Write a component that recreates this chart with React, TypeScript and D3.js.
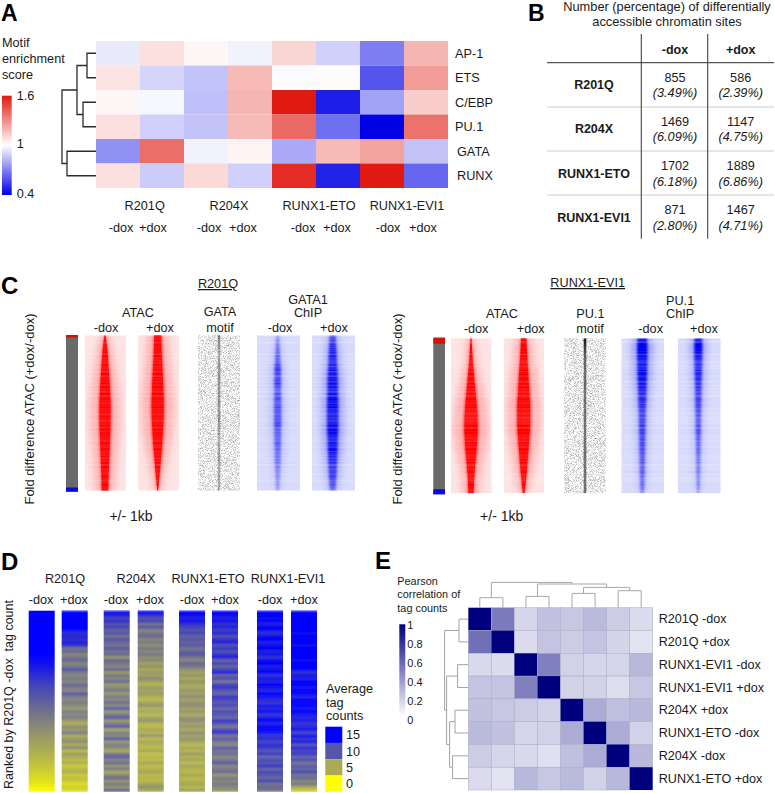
import React from "react";
import * as d3 from "d3";

const FONT = "'Liberation Sans', Arial, sans-serif";
const TS = 12.7;

// ---------- Panel A
const motifRows = ["AP-1", "ETS", "C/EBP", "PU.1", "GATA", "RUNX"];
const motifScores = [
  [0.95, 1.08, 1.02, 0.97, 1.11, 0.89, 0.7, 1.19],
  [1.07, 0.9, 0.86, 1.18, 0.99, 1.01, 0.6, 1.26],
  [1.02, 0.98, 0.85, 1.19, 1.6, 0.47, 0.78, 1.13],
  [1.08, 0.89, 0.86, 1.18, 1.39, 0.66, 0.4, 1.37],
  [0.74, 1.38, 0.97, 1.03, 0.8, 1.18, 1.24, 0.86],
  [1.08, 0.88, 1.1, 0.89, 1.55, 0.48, 1.6, 0.64],
];
const motifMerges = [[0, 1, 9], [2, 3, 13], [6, 7, 19], [4, 5, 29], [8, 9, 34]];

// ---------- Panel B
const tableGroups = ["R201Q", "R204X", "RUNX1-ETO", "RUNX1-EVI1"];
const tableMinus = ["855", "1469", "1702", "871"];
const tableMinusPct = ["(3.49%)", "(6.09%)", "(6.18%)", "(2.80%)"];
const tablePlus = ["586", "1147", "1889", "1467"];
const tablePlusPct = ["(2.39%)", "(4.75%)", "(6.86%)", "(4.71%)"];

// ---------- Panel C: half-width of the saturated core (bp), top to bottom
const coreR201QMinus = [25, 110, 160, 205, 240, 265, 265, 245, 220, 195, 170, 155];
const coreR201QPlus = [165, 180, 210, 245, 270, 285, 275, 240, 195, 140, 85, 20];
const coreEvi1Minus = [25, 60, 110, 170, 230, 285, 320, 305, 260, 205, 150, 130];
const coreEvi1Plus = [130, 160, 205, 245, 285, 315, 315, 280, 230, 180, 115, 40];
const chipWidthGata = [70, 90, 130, 150, 150, 160, 160, 150, 140, 130, 100, 70];
const chipWidthGataPlus = [140, 170, 200, 230, 240, 250, 260, 240, 220, 200, 170, 130];
const chipWidthPuMinus = [220, 240, 230, 210, 190, 170, 150, 140, 130, 120, 110, 80];
const chipWidthPuPlus = [170, 180, 170, 150, 140, 130, 120, 110, 100, 90, 80, 50];
const motifWidth = [60, 60, 60, 60, 60, 60, 60, 60, 60, 60, 60, 60];
const chipGataMinus = [0.25, 0.4, 0.45, 0.5, 0.55, 0.78, 0.55, 0.72, 0.5, 0.62, 0.55, 0.62, 0.6, 0.7, 0.5, 0.5, 0.55, 0.45, 0.45, 0.4, 0.35, 0.35, 0.3, 0.3];
const chipGataPlus = [0.55, 0.7, 0.75, 0.85, 0.8, 0.9, 0.85, 0.95, 0.85, 0.95, 1, 0.95, 0.9, 0.95, 1, 0.9, 0.9, 0.95, 0.85, 0.75, 0.7, 0.75, 0.55, 0.5];
const chipPuMinus = [1, 1, 1, 0.95, 1, 0.95, 0.95, 0.9, 0.85, 0.8, 0.75, 0.7, 0.75, 0.7, 0.65, 0.7, 0.65, 0.6, 0.6, 0.55, 0.55, 0.5, 0.45, 0.4];
const chipPuPlus = [0.9, 1, 0.95, 0.85, 0.85, 0.8, 0.8, 0.75, 0.7, 0.7, 0.65, 0.65, 0.6, 0.6, 0.6, 0.55, 0.5, 0.5, 0.45, 0.45, 0.4, 0.4, 0.35, 0.3];
const motifGata = [0.5, 0.42, 0.35, 0.3, 0.4, 0.35, 0.45, 0.4, 0.35, 0.4, 0.45, 0.35, 0.4, 0.4, 0.35, 0.3, 0.3, 0.35, 0.3, 0.35, 0.28, 0.3, 0.28, 0.25];
const motifPu = [0.95, 0.85, 0.7, 0.62, 0.62, 0.58, 0.58, 0.62, 0.55, 0.58, 0.55, 0.55, 0.58, 0.55, 0.55, 0.55, 0.55, 0.58, 0.55, 0.55, 0.58, 0.55, 0.58, 0.58];

// ---------- Panel D: average tag counts, top to bottom
const d1Stops = [15, 15, 15, 15, 15, 14, 12.5, 11, 10, 8.8, 7.8, 6.8, 5.8, 5, 4, 3, 1.8, 0];
const d2 = [15, 15, 15, 15, 15, 15, 14, 12, 13, 12, 13, 12, 8, 9, 7, 8, 9, 7, 8, 10, 8, 7, 8, 7, 9, 8, 7, 10, 8, 7, 8, 7, 6, 8, 7, 8, 6, 5, 7, 6, 8, 5, 6, 7, 5, 7, 4, 6, 5, 4, 5, 3, 4, 5, 3, 4, 3, 2, 3, 2];
const d3Col = [14, 13, 11, 12, 10, 11, 9, 10, 8, 10, 9, 8, 10, 8, 9, 6, 9, 8, 7, 9, 6, 8, 7, 9, 6, 7, 8, 6, 8, 7, 9, 7, 10, 6, 8, 10, 6, 8, 10, 5, 8, 7, 10, 6, 8, 7, 5, 8, 10, 7, 9, 6, 8, 5, 7, 9, 6, 8, 6, 9];
const d4 = [15, 12, 10, 11, 8, 10, 7, 8, 9, 7, 8, 6.5, 8, 7, 8, 6.5, 7, 5.5, 6.5, 5, 6, 5.5, 7, 5.5, 4.5, 6, 5.5, 6, 5, 4, 5.5, 6.5, 4.5, 5.5, 4, 5.5, 6.5, 4.5, 4, 5.5, 4.5, 6.5, 4, 5.5, 4.5, 4, 5.5, 3.5, 4.5, 4, 5.5, 4, 4.5, 5.5, 4, 4.5, 4, 5.5, 6.5, 5];
const d5 = [15, 14, 13, 14, 12, 11, 10, 11, 9, 10, 9, 10, 8, 9, 10, 8, 7, 9, 8, 6.5, 5.5, 6.5, 5, 6.5, 5.5, 5, 6.5, 5.5, 7, 5.5, 6.5, 7, 5.5, 6.5, 5, 6.5, 7, 5.5, 6.5, 5, 7, 5.5, 6.5, 5.5, 4, 5.5, 4.5, 6, 4.5, 5.5, 4, 5.5, 4.5, 4, 5.5, 4, 4.5, 5.5, 4, 5.5];
const d6 = [15, 14, 13, 14, 12, 13, 11, 13, 10, 12, 13, 10, 12, 10, 12, 13, 9, 11, 9, 11, 13, 9, 11, 8, 11, 12, 10, 9, 12, 11, 10, 11, 9, 11, 10, 9, 12, 10, 8, 11, 12, 8, 10, 8, 7, 10, 8, 9, 7, 8, 10, 7, 8, 9, 6, 8, 7, 8, 7, 6];
const d7 = [15, 15, 14, 15, 13, 15, 14, 12, 14, 15, 13, 14, 15, 13, 14, 12, 14, 15, 13, 14, 15, 12, 14, 13, 15, 14, 13, 15, 14, 13, 12, 14, 13, 15, 12, 14, 15, 13, 15, 15, 14, 12, 13, 11, 13, 12, 10, 12, 9, 11, 10, 12, 9, 11, 10, 9, 11, 8, 9, 8];
const d8 = [15, 15, 15, 15, 15, 15, 15, 14, 15, 15, 15, 14, 15, 15, 15, 15, 14, 15, 15, 15, 12, 14, 13, 15, 15, 14, 15, 15, 13, 15, 15, 15, 14, 15, 14, 13, 14, 12, 13, 14, 11, 14, 12, 14, 10, 13, 11, 12, 9, 11, 8, 10, 9, 11, 8, 9, 7, 8, 5, 3];
const tagLegend = [15, 10, 5, 0];

// ---------- Panel E
const corrLabels = ["R201Q -dox", "R201Q +dox", "RUNX1-EVI1 -dox", "RUNX1-EVI1 +dox", "R204X +dox", "RUNX1-ETO -dox", "R204X -dox", "RUNX1-ETO +dox"];
const corrValues = [
  [1, 0.52, 0.16, 0.24, 0.22, 0.27, 0.2, 0.14],
  [0.56, 1, 0.14, 0.23, 0.2, 0.23, 0.17, 0.11],
  [0.15, 0.14, 1, 0.5, 0.18, 0.16, 0.16, 0.28],
  [0.23, 0.23, 0.5, 1, 0.18, 0.18, 0.13, 0.22],
  [0.24, 0.22, 0.2, 0.18, 1, 0.33, 0.25, 0.28],
  [0.27, 0.24, 0.16, 0.18, 0.33, 1, 0.33, 0.18],
  [0.2, 0.16, 0.15, 0.12, 0.25, 0.33, 1, 0.28],
  [0.14, 0.11, 0.28, 0.22, 0.27, 0.18, 0.28, 1],
];
const corrTopMerges = [[0, 1, 10], [2, 3, 11.3], [4, 5, 14.3], [6, 7, 17], [10, 11, 20.3], [9, 12, 23.7], [8, 13, 25.3]];
const corrLeftMerges = [[0, 1, 9.3], [2, 3, 10.7], [4, 5, 13.3], [6, 7, 15.7], [10, 11, 18.7], [9, 12, 21.7], [8, 13, 23.7]];
const corrLegendTicks = [1, 0.8, 0.6, 0.4, 0.2, 0];

const T = ({ x, y, s = TS, a = "start", b = false, i = false, u = false, r = false, c = "#1a1a1a", children }: any) => (
  <text
    x={r ? 0 : x}
    y={r ? 0 : y}
    transform={r ? `translate(${x},${y}) rotate(-90)` : undefined}
    fontSize={s}
    textAnchor={a}
    fontWeight={b ? "bold" : "normal"}
    fontStyle={i ? "italic" : "normal"}
    textDecoration={u ? "underline" : undefined}
    fill={c}
    fontFamily={FONT}
    style={{ whiteSpace: "pre" }}
  >
    {children}
  </text>
);

function dendroPaths(merges: number[][], leafCount: number, leafPos: (i: number) => number, heightPos: (h: number) => number, horizontal: boolean) {
  const pos: number[] = d3.range(leafCount).map(leafPos);
  const hts: number[] = d3.range(leafCount).map(() => 0);
  const line = d3.line();
  return merges.map(([a, b, h]) => {
    const pa = pos[a], pb = pos[b];
    const pts: [number, number][] = [
      [pa, heightPos(hts[a])],
      [pa, heightPos(h)],
      [pb, heightPos(h)],
      [pb, heightPos(hts[b])],
    ];
    pos.push((pa + pb) / 2);
    hts.push(h);
    return line(horizontal ? pts.map(([p, q]) => [q, p] as [number, number]) : pts) as string;
  });
}

function PanelA() {
  const x = d3.scaleBand().domain(d3.range(8).map(String)).range([96, 448]);
  const y = d3.scaleBand().domain(motifRows).range([41, 188]);
  const color = d3.scaleLinear<string>().domain([0.4, 1, 1.6]).range(["#0000e6", "#ffffff", "#e01a10"]);
  const legendY = d3.scaleLinear().domain([1.6, 0.4]).range([95.7, 195]);
  const h = d3.scaleLinear().domain([0, 34]).range([96, 62]);
  const labelX = [455, 455, 455, 455, 457, 457];
  const groups = [["R201Q", 144.7], ["R204X", 229], ["RUNX1-ETO", 319], ["RUNX1-EVI1", 407]] as const;
  const doxX = [121, 153, 209, 243, 303, 337, 388, 423];
  return (
    <g>
      <T x={1} y={21} s={23} b c="#000">A</T>
      <T x={2} y={47}>Motif</T>
      <T x={2} y={63}>enrichment</T>
      <T x={2} y={79}>score</T>
      <defs>
        <linearGradient id="aLegend" x1="0" x2="0" y1="0" y2="1">
          {d3.range(0, 1.001, 0.1).map((t) => (
            <stop key={t} offset={t} stopColor={color(1.6 - 1.2 * t)} />
          ))}
        </linearGradient>
      </defs>
      <rect x={2} y={legendY(1.6)} width={9.7} height={legendY(0.4) - legendY(1.6)} fill="url(#aLegend)" />
      <T x={16.7} y={99.5}>1.6</T>
      <T x={16.7} y={148}>1</T>
      <T x={16.7} y={198}>0.4</T>
      {motifScores.map((row, r) =>
        row.map((v, c) => (
          <rect key={`${r}-${c}`} x={x(String(c))} y={y(motifRows[r])} width={x.bandwidth()} height={y.bandwidth()} fill={color(v)} />
        ))
      )}
      {dendroPaths(motifMerges, 6, (i) => (y(motifRows[i]) as number) + y.bandwidth() / 2, h, true).map((d, i) => (
        <path key={i} d={d} fill="none" stroke="#2b2b2b" strokeWidth={1.3} />
      ))}
      {motifRows.map((m, i) => (
        <T key={m} x={labelX[i]} y={(y(m) as number) + y.bandwidth() / 2 + 4.5}>{m}</T>
      ))}
      {groups.map(([g, gx]) => (
        <T key={g} x={gx} y={210} a="middle">{g}</T>
      ))}
      {doxX.map((dx, i) => (
        <T key={i} x={dx} y={231.5} a="middle">{i % 2 ? "+dox" : "-dox"}</T>
      ))}
    </g>
  );
}

function PanelB() {
  const rowY = d3.scalePoint().domain(tableGroups).range([89.3, 221.7]);
  return (
    <g>
      <T x={528} y={21} s={23} b c="#000">B</T>
      <T x={667} y={10.5} s={12.8} a="middle">Number (percentage) of differentially</T>
      <T x={667} y={26} s={12.8} a="middle">accessible chromatin sites</T>
      {[107, 151, 195].map((ly) => (
        <line key={ly} x1={547} x2={774} y1={ly} y2={ly} stroke="#dedede" strokeWidth={1.5} />
      ))}
      <line x1={547} x2={774} y1={62.7} y2={62.7} stroke="#555" strokeWidth={1.2} />
      {[641.3, 707.7].map((lx) => (
        <line key={lx} x1={lx} x2={lx} y1={34} y2={238.7} stroke="#444" strokeWidth={1.1} />
      ))}
      <T x={675} y={53.5} s={12.5} a="middle" b>-dox</T>
      <T x={740.7} y={53.5} s={12.5} a="middle" b>+dox</T>
      {tableGroups.map((g, i) => {
        const ry = rowY(g) as number;
        return (
          <g key={g}>
            <T x={594} y={ry} s={12.5} a="middle" b>{g}</T>
            <T x={675} y={ry - 7.6} a="middle">{tableMinus[i]}</T>
            <T x={675} y={ry + 8} a="middle" i>{tableMinusPct[i]}</T>
            <T x={740.7} y={ry - 7.6} a="middle">{tablePlus[i]}</T>
            <T x={740.7} y={ry + 8} a="middle" i>{tablePlusPct[i]}</T>
          </g>
        );
      })}
    </g>
  );
}

function Profile({ id, kind, x0, x1, cx, y0, y1, widths, intensity }: any) {
  const half = Math.max(cx - x0, x1 - cx);
  const xs = d3.scaleLinear().domain([-1000, 1000]).range([cx - half, cx + half]);
  const ys = d3.scaleLinear().domain([0, widths.length - 1]).range([y0, y1]);
  const area = (f: (w: number) => number) =>
    d3.area<number>()
      .x0((w) => xs(-f(w)))
      .x1((w) => xs(f(w)))
      .y((_, i) => ys(i))
      .curve(d3.curveMonotoneY)(widths) as string;
  const clip = <clipPath id={`clip-${id}`}><rect x={x0} y={y0} width={x1 - x0} height={y1 - y0} /></clipPath>;
  const grad = intensity && (
    <linearGradient id={`g-${id}`} x1="0" x2="0" y1="0" y2="1">
      {intensity.map((v: number, i: number) => (
        <stop key={i} offset={i / (intensity.length - 1)} stopColor={kind === "motif" ? "#111" : "#0000f0"} stopOpacity={v} />
      ))}
    </linearGradient>
  );
  if (kind === "atac") {
    return (
      <g clipPath={`url(#clip-${id})`}>
        <defs>{clip}</defs>
        <rect x={x0} y={y0} width={x1 - x0} height={y1 - y0} fill="#fde3e3" />
        <path d={area((w) => w * 2.2 + 130)} fill="#ff9a9a" opacity={0.7} filter="url(#blurWide)" />
        <path d={area((w) => w * 1.2)} fill="#ff4040" filter="url(#blurMid)" />
        <path d={area((w) => w)} fill="#ff0000" filter="url(#blurFine)" />
        <rect x={x0} y={y0} width={x1 - x0} height={y1 - y0} filter="url(#streak)" opacity={0.16} />
      </g>
    );
  }
  if (kind === "chip") {
    return (
      <g clipPath={`url(#clip-${id})`}>
        <defs>{clip}{grad}</defs>
        <rect x={x0} y={y0} width={x1 - x0} height={y1 - y0} fill="#d6d9fb" />
        <path d={area((w) => w * 2)} fill={`url(#g-${id})`} opacity={0.3} filter="url(#blurWide)" />
        <path d={area((w) => w)} fill={`url(#g-${id})`} filter="url(#blurMid)" />
        <rect x={x0} y={y0} width={x1 - x0} height={y1 - y0} filter="url(#streak)" opacity={0.22} />
      </g>
    );
  }
  return (
    <g clipPath={`url(#clip-${id})`}>
      <defs>{clip}{grad}</defs>
      <rect x={x0} y={y0} width={x1 - x0} height={y1 - y0} fill="#fff" />
      <rect x={x0} y={y0} width={x1 - x0} height={y1 - y0} filter="url(#speckle)" opacity={0.62} />
      <path d={area((w) => w)} fill={`url(#g-${id})`} filter="url(#blurFine)" />
    </g>
  );
}

function SideBar({ x0, x1, y0, y1, redEnd, blueStart }: any) {
  return (
    <g>
      <rect x={x0} y={y0} width={x1 - x0} height={y1 - y0} fill="#6a6a6a" />
      <rect x={x0} y={y0} width={x1 - x0} height={redEnd - y0} fill="#d8100c" />
      <rect x={x0} y={blueStart} width={x1 - x0} height={y1 - blueStart} fill="#0808e0" />
    </g>
  );
}

function PanelC() {
  return (
    <g>
      <T x={1} y={294} s={24} b c="#000">C</T>
      <T x={218} y={288} a="middle" u>R201Q</T>
      <T x={33.5} y={409} s={13} a="middle" r>Fold difference ATAC (+dox/-dox)</T>
      <SideBar x0={66} x1={78} y0={335} y1={491.7} redEnd={337.5} blueStart={487.5} />
      <T x={138} y={316.5} a="middle">ATAC</T>
      <T x={106} y={332} a="middle">-dox</T>
      <T x={160} y={332} a="middle">+dox</T>
      <T x={220} y={316} a="middle">GATA</T>
      <T x={220} y={332} a="middle">motif</T>
      <T x={308} y={304} a="middle">GATA1</T>
      <T x={308} y={317} a="middle">ChIP</T>
      <T x={280} y={332} a="middle">-dox</T>
      <T x={334} y={332} a="middle">+dox</T>
      <T x={131} y={521} s={14} a="middle">+/- 1kb</T>
      <Profile id="a1" kind="atac" x0={85} x1={126} cx={105} y0={335.3} y1={490.7} widths={coreR201QMinus} />
      <Profile id="a2" kind="atac" x0={138} x1={179} cx={157.7} y0={335.3} y1={490.7} widths={coreR201QPlus} />
      <Profile id="m1" kind="motif" x0={198} x1={240} cx={219} y0={335.3} y1={490.7} widths={motifWidth} intensity={motifGata} />
      <Profile id="c1" kind="chip" x0={257} x1={300} cx={277.7} y0={335.3} y1={490.7} widths={chipWidthGata} intensity={chipGataMinus} />
      <Profile id="c2" kind="chip" x0={312} x1={355} cx={332.7} y0={335.3} y1={490.7} widths={chipWidthGataPlus} intensity={chipGataPlus} />

      <T x={587.7} y={287} a="middle" u>RUNX1-EVI1</T>
      <T x={402} y={409} s={13} a="middle" r>Fold difference ATAC (+dox/-dox)</T>
      <SideBar x0={433.3} x1={445} y0={337.7} y1={494.3} redEnd={343.7} blueStart={489.3} />
      <T x={502} y={318} a="middle">ATAC</T>
      <T x={476} y={333} a="middle">-dox</T>
      <T x={530.7} y={333} a="middle">+dox</T>
      <T x={576.3} y={318}>PU.1</T>
      <T x={576.3} y={333}>motif</T>
      <T x={666} y={305}>PU.1</T>
      <T x={666} y={317.5}>ChIP</T>
      <T x={650.7} y={333} a="middle">-dox</T>
      <T x={704} y={333} a="middle">+dox</T>
      <T x={501.7} y={520.5} s={14} a="middle">+/- 1kb</T>
      <Profile id="a3" kind="atac" x0={450.7} x1={491.7} cx={471} y0={338.3} y1={493.3} widths={coreEvi1Minus} />
      <Profile id="a4" kind="atac" x0={503.7} x1={544} cx={523.7} y0={338.3} y1={493.3} widths={coreEvi1Plus} />
      <Profile id="m2" kind="motif" x0={564} x1={605.7} cx={585} y0={338.3} y1={493.3} widths={motifWidth} intensity={motifPu} />
      <Profile id="c3" kind="chip" x0={621.3} x1={664} cx={642.3} y0={338.3} y1={493.3} widths={chipWidthPuMinus} intensity={chipPuMinus} />
      <Profile id="c4" kind="chip" x0={677.7} x1={720.7} cx={698.3} y0={338.3} y1={493.3} widths={chipWidthPuPlus} intensity={chipPuPlus} />
    </g>
  );
}

function PanelD() {
  const color = d3.scaleLinear<string>().domain([0, 15]).range(["#ffff00", "#0000ff"]);
  const cols = [d2, d3Col, d4, d5, d6, d7, d8];
  const colX = [61.7, 103.7, 137.7, 179, 212, 257, 291];
  const W = 26;
  const y0 = 610.7, y1 = 791.7;
  const legendY = d3.scaleBand<number>().domain(tagLegend).range([726.7, 791.7]);
  const groups = [["R201Q", 65], ["R204X", 136], ["RUNX1-ETO", 208], ["RUNX1-EVI1", 288]] as const;
  const doxX = [41, 74, 116, 150, 192, 225, 270, 304];
  return (
    <g>
      <T x={1} y={570} s={24} b c="#000">D</T>
      <T x={12.7} y={694.5} s={12.5} a="middle" r>Ranked by R201Q -dox  tag count</T>
      {groups.map(([g, gx]) => <T key={g} x={gx} y={583} a="middle">{g}</T>)}
      {doxX.map((dx, i) => <T key={i} x={dx} y={604} a="middle">{i % 2 ? "+dox" : "-dox"}</T>)}
      <defs>
        <linearGradient id="d1grad" x1="0" x2="0" y1="0" y2="1">
          {d1Stops.map((v, i) => <stop key={i} offset={i / (d1Stops.length - 1)} stopColor={color(v)} />)}
        </linearGradient>
      </defs>
      <rect x={28.7} y={y0} width={W} height={y1 - y0} fill="url(#d1grad)" />
      {cols.map((vals, c) => {
        const band = d3.scaleBand<number>().domain(d3.range(vals.length)).range([y0, y1]);
        return (
          <g key={c} filter="url(#softBands)">
            {vals.map((v, r) => (
              <rect key={r} x={colX[c]} y={band(r)} width={W} height={band.bandwidth() + 0.3} fill={color(v)} />
            ))}
          </g>
        );
      })}
      <T x={326} y={693}>Average</T>
      <T x={326} y={707}>tag</T>
      <T x={326} y={720}>counts</T>
      {tagLegend.map((v) => (
        <g key={v}>
          <rect x={325.3} y={legendY(v)} width={17} height={legendY.bandwidth()} fill={color(v)} />
          <T x={346} y={(legendY(v) as number) + legendY.bandwidth() / 2 + 4.5}>{v}</T>
        </g>
      ))}
    </g>
  );
}

function PanelE() {
  const idx = d3.range(8);
  const x = d3.scaleBand<number>().domain(idx).range([468.3, 652.7]);
  const y = d3.scaleBand<number>().domain(idx).range([607.7, 790]);
  const color = d3.scaleLinear<string>().domain([0, 1]).range(["#ffffff", "#00007f"]);
  const legendY = d3.scaleLinear().domain([1, 0]).range([624.3, 716.7]);
  const tickY = d3.scaleLinear().domain([1, 0]).range([629, 724]);
  const topH = d3.scaleLinear().domain([0, 25.3]).range([607.7, 582.4]);
  const leftH = d3.scaleLinear().domain([0, 23.7]).range([468.3, 444.6]);
  return (
    <g>
      <T x={375} y={569} s={24} b c="#000">E</T>
      <T x={397.3} y={585} s={10.9}>Pearson</T>
      <T x={397.3} y={598} s={10.9}>correlation of</T>
      <T x={397.3} y={611.5} s={10.9}>tag counts</T>
      <defs>
        <linearGradient id="eLegend" x1="0" x2="0" y1="0" y2="1">
          <stop offset={0} stopColor={color(1)} />
          <stop offset={1} stopColor={color(0)} />
        </linearGradient>
      </defs>
      <rect x={399.3} y={legendY(1)} width={6} height={legendY(0) - legendY(1)} fill="url(#eLegend)" />
      {corrLegendTicks.map((t) => (
        <T key={t} x={407.3} y={tickY(t)} s={11}>{t}</T>
      ))}
      {corrValues.map((row, r) =>
        row.map((v, c) => (
          <rect key={`${r}-${c}`} x={x(c)} y={y(r)} width={x.bandwidth()} height={y.bandwidth()} fill={color(v)} stroke={v === 1 ? "none" : "#a9a9c4"} strokeWidth={0.5} />
        ))
      )}
      {dendroPaths(corrTopMerges, 8, (i) => (x(i) as number) + x.bandwidth() / 2, topH, false).map((d, i) => (
        <path key={i} d={d} fill="none" stroke="#a8a8a8" strokeWidth={1} />
      ))}
      {dendroPaths(corrLeftMerges, 8, (i) => (y(i) as number) + y.bandwidth() / 2, leftH, true).map((d, i) => (
        <path key={i} d={d} fill="none" stroke="#999" strokeWidth={0.9} />
      ))}
      {corrLabels.map((l, i) => (
        <T key={l} x={658.7} y={(y(i) as number) + y.bandwidth() / 2 + 4.2} s={12.6}>{l}</T>
      ))}
    </g>
  );
}

export default function App() {
  return (
    <svg width={775} height={793} viewBox="0 0 775 793" style={{ position: "absolute", left: 0, top: 0, background: "#fff" }}>
      <defs>
        <filter id="blurWide" x="-60%" y="-5%" width="220%" height="110%">
          <feGaussianBlur stdDeviation="3.5 1" />
        </filter>
        <filter id="blurMid" x="-60%" y="-5%" width="220%" height="110%">
          <feGaussianBlur stdDeviation="1.3 1" />
        </filter>
        <filter id="blurFine" x="-60%" y="-5%" width="220%" height="110%">
          <feGaussianBlur stdDeviation="0.7 0.7" />
        </filter>
        <filter id="softBands" x="0" y="0" width="100%" height="100%">
          <feGaussianBlur stdDeviation="0 0.8" />
        </filter>
        <filter id="streak" x="0" y="0" width="100%" height="100%" colorInterpolationFilters="sRGB">
          <feTurbulence type="fractalNoise" baseFrequency="0.0005 0.45" numOctaves={2} seed={4} />
          <feColorMatrix values="0 0 0 0 1  0 0 0 0 1  0 0 0 0 1  2.6 0 0 0 -0.9" />
        </filter>
        <filter id="speckle" x="0" y="0" width="100%" height="100%" colorInterpolationFilters="sRGB">
          <feTurbulence type="fractalNoise" baseFrequency="1.6" numOctaves={1} seed={7} />
          <feColorMatrix values="0 0 0 0 0.2  0 0 0 0 0.2  0 0 0 0 0.2  2.2 0 0 0 -0.95" />
          <feGaussianBlur stdDeviation="0.35" />
        </filter>
      </defs>
      <PanelA />
      <PanelB />
      <PanelC />
      <PanelD />
      <PanelE />
    </svg>
  );
}
